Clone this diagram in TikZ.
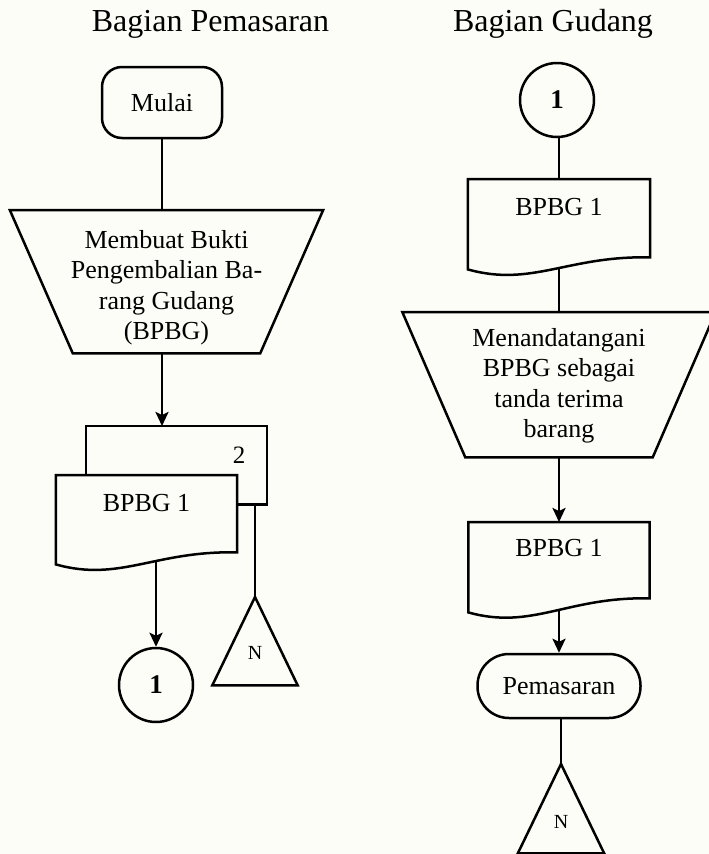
\documentclass[tikz,border=0pt]{standalone}
\usepackage{fontspec}
\setmainfont{Liberation Serif}
\usetikzlibrary{arrows.meta,calc}
\definecolor{paper}{HTML}{FDFDF7}
\pgfdeclarelayer{paperlayer}
\pgfdeclarelayer{outline}
\pgfsetlayers{paperlayer,outline,main}
% stacked text lines whose baseline is the first line
\newcommand\lines[1]{\begin{tabular}[t]{@{}c@{}}#1\end{tabular}}
% document symbol: flat top, wavy bottom; #2 = how much higher the right corner sits
\newcommand\docoutline[2]{%
  \draw[edgeline, fill=paper] (#1.north west) -- (#1.north east)
    -- ($(#1.south east)+(0,-#2)$) .. controls +(-82,-2) and +(64,18) .. (#1.south west) -- cycle;}
% manual operation symbol
\newcommand\manualoutline[1]{%
  \draw[edgeline] (#1.north west) -- (#1.north east)
    -- ($(#1.south east)+(-63,0)$) -- ($(#1.south west)+(63,0)$) -- cycle;}
% off-page storage triangle
\newcommand\offpageoutline[1]{%
  \draw[edgeline] (#1.north) -- (#1.south east) -- (#1.south west) -- cycle;}
\begin{document}
\begin{tikzpicture}[x=1pt, y=-1pt,
  edgeline/.style={line width=2.5pt, line join=miter},
  flow/.style={edgeline, -{Stealth[length=14pt, width=13pt, inset=3pt]}},
  body/.style={font=\fontsize{26}{30.5}\selectfont},
  title/.style={font=\fontsize{32}{36}\selectfont, anchor=base},
  terminal/.style={body, draw, edgeline, rounded corners=20pt, inner sep=0pt},
  connector/.style={circle, draw, edgeline, minimum size=74pt, inner sep=0pt,
    font=\fontsize{27}{30}\selectfont\bfseries},
  docbox/.style={body, inner sep=0pt, anchor=north, text height=36.5pt, text depth=53.5pt},
  manual/.style={body, inner sep=0pt, minimum width=313pt, anchor=north},
  offpage/.style={inner sep=0pt, minimum width=85pt, anchor=north,
    font=\fontsize{20}{24}\selectfont}]
\useasboundingbox (0,0) rectangle (709,854);
\begin{pgfonlayer}{paperlayer}
  \fill[paper] (0,0) rectangle (709,854);
\end{pgfonlayer}

% column headings
\node[title] (hpem) at (210.5,31) {Bagian Pemasaran};
\node[title] (hgud) at (553,31) {Bagian Gudang};

% ---- Bagian Pemasaran ----
\node[terminal, minimum width=120pt, minimum height=71pt] (mulai) at (162,102.5) {Mulai};
\node[manual, text height=38pt, text depth=105pt] (m1) at (166.5,210)
  {\lines{Membuat Bukti\\Pengembalian Ba-\\rang Gudang\\(BPBG)}};
\node[inner sep=0pt, minimum width=181pt, minimum height=78pt, anchor=north] (d0) at (176.5,426) {};
\node[font=\fontsize{25}{28}\selectfont] (n2) at (239,455) {2};
\node[docbox, minimum width=181pt, text depth=52.5pt] (d1) at (146.5,475) {BPBG 1};
\node[offpage, text height=62.5pt, text depth=25.5pt] (t1) at (255,597) {N};
\node[connector] (c1) at (156,685) {1};

% ---- Bagian Gudang ----
\node[connector] (c2) at (557,100) {1};
\node[docbox, minimum width=182pt] (d2) at (559,179) {BPBG 1};
\node[manual, text height=34pt, text depth=111pt] (m2) at (559,312)
  {\lines{Menandatangani\\BPBG sebagai\\tanda terima\\barang}};
\node[docbox, minimum width=181pt, text height=34.5pt, text depth=55.5pt] (d3) at (559,522) {BPBG 1};
\node[terminal, rounded corners=31.5pt, minimum width=163pt, minimum height=64pt] (p2) at (559,686) {Pemasaran};
\node[offpage, minimum width=86pt, text height=64.5pt, text depth=24.5pt] (t2) at (561,764) {N};

% symbol outlines
\begin{pgfonlayer}{outline}
  \draw[edgeline] (d0.north west) rectangle (d0.south east);
  \docoutline{d1}{12}
  \docoutline{d2}{12}
  \docoutline{d3}{14}
  \manualoutline{m1}
  \manualoutline{m2}
  \offpageoutline{t1}
  \offpageoutline{t2}
\end{pgfonlayer}

% connectors
\draw[edgeline] (mulai.south) -- (mulai.south |- m1.north);
\draw[flow] (mulai.south |- m1.south) -- (mulai.south |- d0.north);
\draw[edgeline] (t1.north |- d0.south) -- (t1.north);
\draw[flow] ([yshift=4pt]c1.north |- d1.south) -- (c1.north);
\draw[edgeline] (c2.south -| d2.north) -- (d2.north);
\draw[edgeline] ([yshift=2pt]d2.south -| m2.north) -- (m2.north);
\draw[flow] (m2.south -| d3.north) -- (d3.north);
\draw[flow] ([yshift=2pt]d3.south -| p2.north) -- (p2.north);
\draw[edgeline] (p2.south -| t2.north) -- (t2.north);
\end{tikzpicture}
\end{document}
